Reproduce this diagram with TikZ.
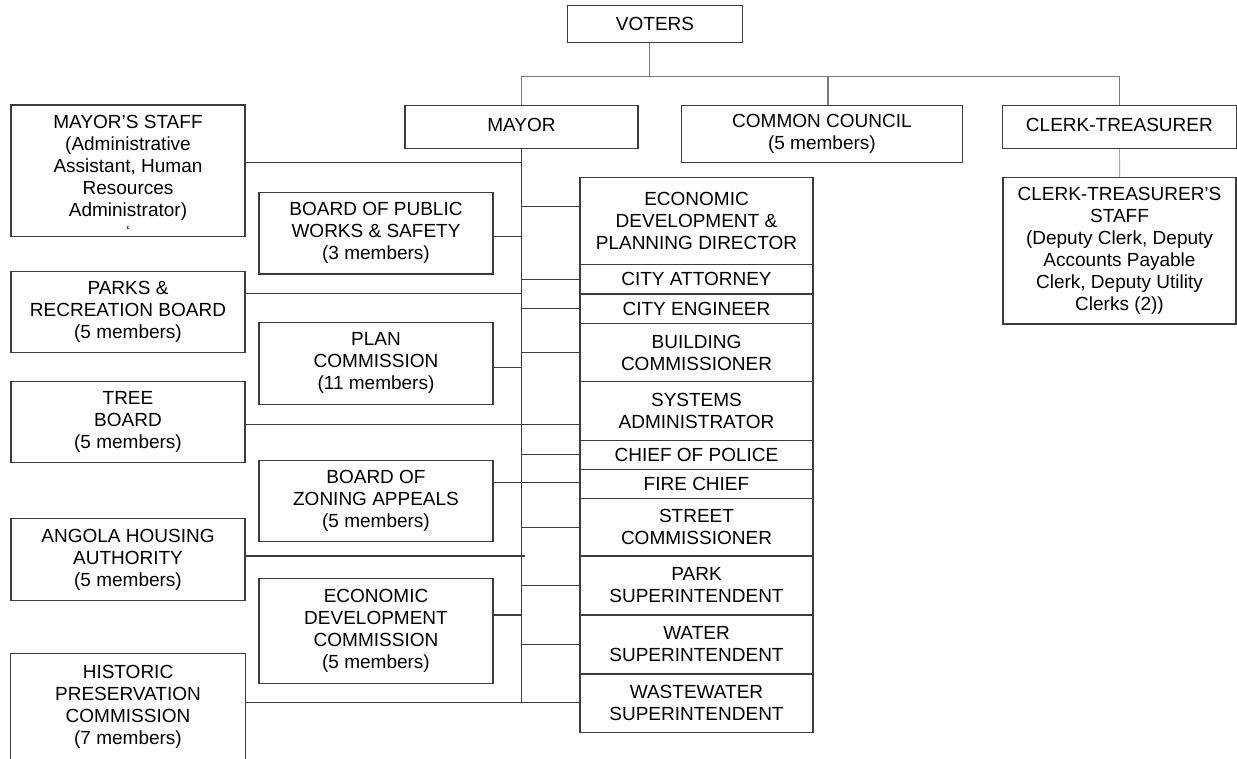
\documentclass[tikz,border=0pt]{standalone}
\usepackage{fontspec}
\setmainfont{Liberation Sans}
\definecolor{boxline}{HTML}{3C3C3C}
\definecolor{topline}{HTML}{7A7A7A}
\definecolor{lightline}{HTML}{A8A8A8}
\tikzset{
  orgbox/.style={draw=boxline, line width=1.1pt, fill=white, inner sep=0pt, align=center,
    font=\fontsize{19}{22}\selectfont, text=black},
  leftbox/.style={orgbox, minimum width=234pt},
  midbox/.style={orgbox, minimum width=234pt},
  rightbox/.style={orgbox, minimum width=233pt},
  textonly/.style={inner sep=0pt, align=center, font=\fontsize{19}{22}\selectfont, text=black},
  conn/.style={draw=boxline, line width=1.1pt},
  topconn/.style={draw=topline, line width=1.1pt},
  lightconn/.style={draw=lightline, line width=1.1pt}
}
\begin{document}
\begin{tikzpicture}[x=1pt,y=-1pt]
\useasboundingbox (0,0) rectangle (1237,759);
% top level
\node[orgbox, minimum width=175.4pt, minimum height=36.7pt] (voters) at (655,24.3) {VOTERS};
\node[orgbox, minimum width=233pt, minimum height=43pt] (mayor) at (521.5,127.2) {\raisebox{4pt}{MAYOR}};
\node[orgbox, minimum width=280.3pt, minimum height=57pt] (council) at (821.9,134.2) {COMMON COUNCIL\\(5 members)};
\node[orgbox, minimum width=233.3pt, minimum height=43pt] (clerk) at (1119.4,127.2) {\raisebox{4pt}{CLERK-TREASURER}};
\node[orgbox, minimum width=233pt, minimum height=146.3pt] (ctstaff) at (1119.5,250.9) {CLERK-TREASURER'S\\STAFF\\(Deputy Clerk, Deputy\\Accounts Payable\\Clerk, Deputy Utility\\Clerks (2))};
% left column
\node[leftbox, minimum height=131.7pt] (mstaff) at (128,170.9) {};
\node[textonly] (mstafftext) at (128,167.5) {MAYOR'S STAFF\\(Administrative\\Assistant, Human\\Resources\\Administrator)};
\node[textonly, font=\fontsize{15}{15}\selectfont] (tick) at (128,231) {`};
\node[leftbox, minimum height=80.6pt] (parks) at (128,312) {PARKS \&\\RECREATION BOARD\\(5 members)};
\node[leftbox, minimum height=80.6pt] (tree) at (128,422) {TREE\\BOARD\\(5 members)};
\node[leftbox, minimum height=82.4pt] (angola) at (128,559.5) {ANGOLA HOUSING\\AUTHORITY\\(5 members)};
\node[textonly, minimum width=234pt, minimum height=105pt] (hist) at (128,706.5) {HISTORIC\\PRESERVATION\\COMMISSION\\(7 members)};
\draw[conn] (hist.south west) |- (hist.north east) -- (hist.south east);
% middle column
\node[midbox, minimum height=81.5pt] (bpw) at (376,233.3) {BOARD OF PUBLIC\\WORKS \& SAFETY\\(3 members)};
\node[midbox, minimum height=81.7pt] (plan) at (376,363.2) {PLAN\\COMMISSION\\(11 members)};
\node[midbox, minimum height=81pt] (bza) at (376,501.2) {BOARD OF\\ZONING APPEALS\\(5 members)};
\node[midbox, minimum height=105pt] (ecdc) at (376,630.8) {ECONOMIC\\DEVELOPMENT\\COMMISSION\\(5 members)};
% right column
\node[rightbox, minimum height=86.6pt] (edpd) at (696.5,221) {ECONOMIC\\DEVELOPMENT \&\\PLANNING DIRECTOR};
\node[rightbox, minimum height=29.7pt] (atty) at (696.5,279.2) {CITY ATTORNEY};
\node[rightbox, minimum height=29.3pt] (eng) at (696.5,308.7) {CITY ENGINEER};
\node[rightbox, minimum height=58.4pt] (bldg) at (696.5,352.5) {BUILDING\\COMMISSIONER};
\node[rightbox, minimum height=59pt] (sys) at (696.5,411.2) {SYSTEMS\\ADMINISTRATOR};
\node[rightbox, minimum height=28.3pt] (police) at (696.5,454.9) {CHIEF OF POLICE};
\node[rightbox, minimum height=29.3pt] (fire) at (696.5,483.7) {FIRE CHIEF};
\node[rightbox, minimum height=57.7pt] (street) at (696.5,527.2) {STREET\\COMMISSIONER};
\node[rightbox, minimum height=59pt] (park) at (696.5,585.5) {PARK\\SUPERINTENDENT};
\node[rightbox, minimum height=59pt] (water) at (696.5,644.5) {WATER\\SUPERINTENDENT};
\node[rightbox, minimum height=58.5pt] (waste) at (696.5,703.3) {WASTEWATER\\SUPERINTENDENT};
% top connectors
\coordinate (vx) at (649.3,76.5);
\coordinate (cx) at (828,76.5);
\draw[topconn] (voters.south -| vx) -- (vx);
\draw[topconn] (mayor.north) |- (vx) -| (clerk.north);
\draw[topconn] (cx) -- (council.north -| cx);
\draw[lightconn] (clerk.south) -- (ctstaff.north);
% trunk
\coordinate (tb) at (521.5,702.7);
\draw[conn] (mayor.south) -- (tb);
% left connectors
\draw[conn] (mstaff.east |- 0,162.7) -- (mayor.south |- 0,162.7);
\draw[conn] (parks.east |- 0,293.3) -- (mayor.south |- 0,293.3);
\draw[conn] (tree.east |- 0,424.3) -- (sys.west |- 0,424.3);
\coordinate (ah) at (525,556);
\draw[conn] (angola.east |- ah) -- (ah);
\draw[conn] (hist.east |- tb) -- (waste.west |- tb);
% middle connectors
\draw[conn] (bpw.east |- 0,236.7) -- (mayor.south |- 0,236.7);
\draw[conn] (plan.east |- 0,367.7) -- (mayor.south |- 0,367.7);
\draw[conn] (bza.east |- 0,482.7) -- (fire.west |- 0,482.7);
\draw[conn] (ecdc.east |- 0,615) -- (mayor.south |- 0,615);
% right connectors
\draw[conn] (mayor.south |- 0,206.7) -- (edpd.west |- 0,206.7);
\foreach \n in {atty,eng,bldg,police,street,park,water}{
  \draw[conn] (mayor.south |- \n.west) -- (\n.west);
}
\end{tikzpicture}
\end{document}
